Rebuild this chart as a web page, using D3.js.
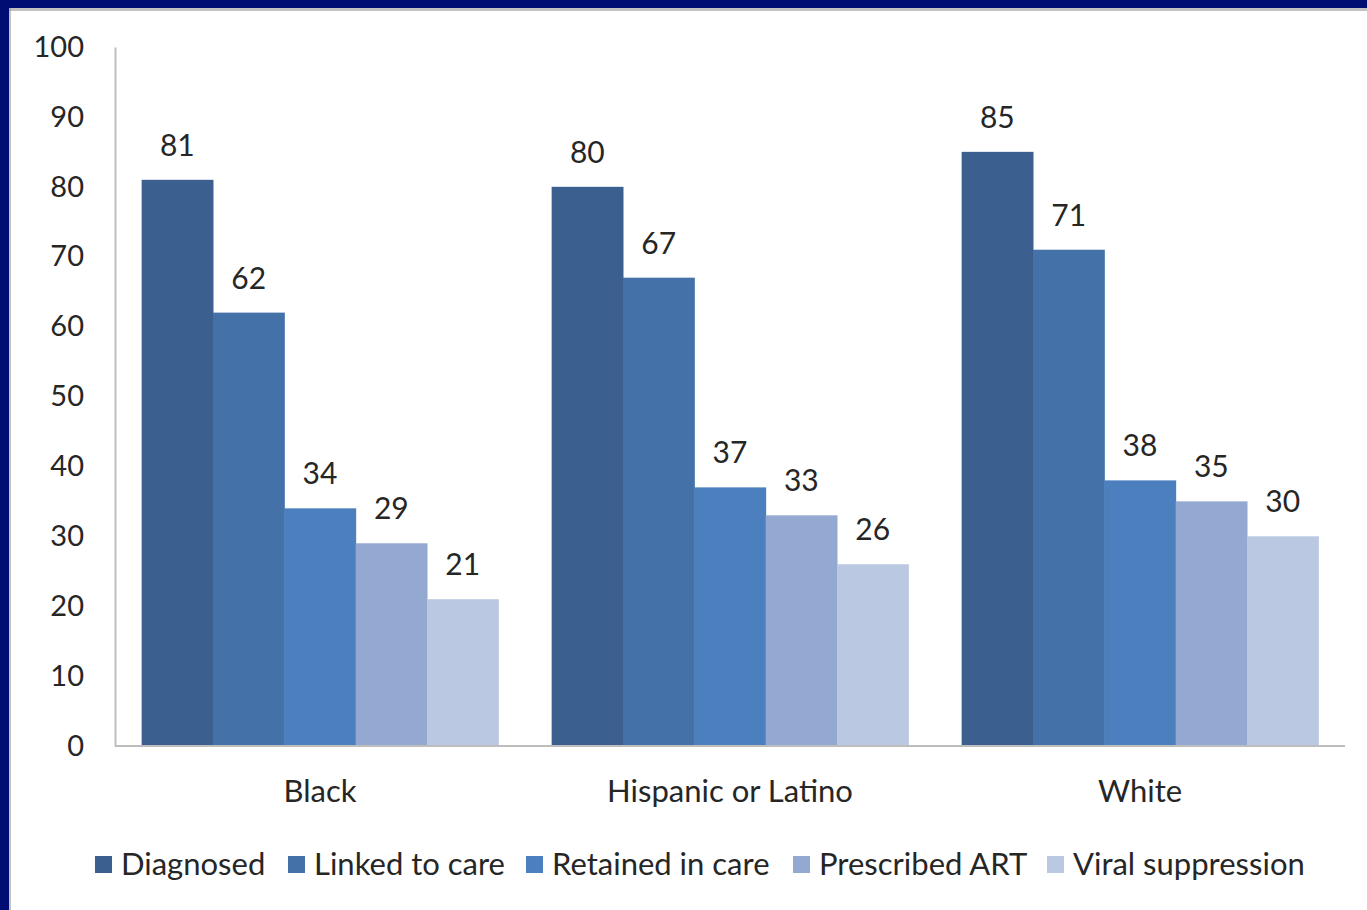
<!DOCTYPE html>
<html>
<head>
<meta charset="utf-8">
<script src="https://cdn.jsdelivr.net/npm/d3@7"></script>
<style>
  html, body { margin: 0; padding: 0; background: #fff; }
  svg { display: block; }
  text { font-family: Lato, "Open Sans", sans-serif; fill: #262626; }
</style>
</head>
<body>
<div id="chart"></div>
<script>
const WIDTH = 1367;
const HEIGHT = 910;

const groups = ["Black", "Hispanic or Latino", "White"];
const seriesNames = ["Diagnosed", "Linked to care", "Retained in care", "Prescribed ART", "Viral suppression"];
const diagnosed = [81, 80, 85];
const linkedToCare = [62, 67, 71];
const retainedInCare = [34, 37, 38];
const prescribedART = [29, 33, 35];
const viralSuppression = [21, 26, 30];
const yTicks = [0, 10, 20, 30, 40, 50, 60, 70, 80, 90, 100];

const seriesValues = [diagnosed, linkedToCare, retainedInCare, prescribedART, viralSuppression];
const colors = ["#3b5f8e", "#4472a8", "#4b7fbd", "#94a9d1", "#bac8e1"];

const margin = {left: 115, right: 22, top: 47, bottom: 164};

var svg = d3.select("#chart").append("svg")
    .attr("width", WIDTH)
    .attr("height", HEIGHT);

// frame of the slide
svg.append("rect").attr("x", 0).attr("y", 0).attr("width", WIDTH).attr("height", 8).attr("fill", "#000e73");
svg.append("rect").attr("x", 0).attr("y", 0).attr("width", 9).attr("height", HEIGHT).attr("fill", "#000e73");
svg.append("rect").attr("x", 9).attr("y", 8).attr("width", WIDTH).attr("height", 3).attr("fill", "#9a9a9a").attr("opacity", 0.6);
svg.append("rect").attr("x", 9).attr("y", 8).attr("width", 2).attr("height", HEIGHT).attr("fill", "#9a9a9a").attr("opacity", 0.6);

var x0 = d3.scaleBand()
    .domain(groups)
    .range([margin.left, WIDTH - margin.right])
    .paddingInner(0.13)
    .paddingOuter(0.065);

var x1 = d3.scaleBand()
    .domain(seriesNames)
    .range([0, x0.bandwidth()]);

var y = d3.scaleLinear()
    .domain([0, 100])
    .range([HEIGHT - margin.bottom, margin.top]);

var color = d3.scaleOrdinal().domain(seriesNames).range(colors);

var rows = [];
groups.forEach((g, gi) => {
    seriesNames.forEach((s, si) => {
        rows.push({group: g, series: s, value: seriesValues[si][gi]});
    });
});

var plot = svg.append("g");

plot.selectAll("rect.bar").data(rows).enter().append("rect")
    .attr("class", "bar")
    .attr("x", d => x0(d.group) + x1(d.series))
    .attr("y", d => y(d.value))
    .attr("width", x1.bandwidth() + 0.5)
    .attr("height", d => y(0) - y(d.value))
    .attr("fill", d => color(d.series));

plot.selectAll("text.lbl").data(rows).enter().append("text")
    .attr("class", "lbl")
    .attr("x", d => x0(d.group) + x1(d.series) + x1.bandwidth() / 2)
    .attr("y", d => y(d.value) - 24)
    .attr("text-anchor", "middle")
    .style("font-size", "30px")
    .text(d => d.value);

// y axis
var yAxis = svg.append("g")
    .attr("transform", `translate(${margin.left},0)`)
    .call(d3.axisLeft(y).tickValues(yTicks).tickSize(0).tickPadding(31));
yAxis.select(".domain").attr("stroke", "#bdbdbd").attr("stroke-width", 2);
yAxis.selectAll("text").style("font-size", "29px").attr("fill", "#262626");

// x axis
var xAxis = svg.append("g")
    .attr("transform", `translate(0,${y(0)})`)
    .call(d3.axisBottom(x0).tickSize(0).tickPadding(34));
xAxis.select(".domain").attr("d", `M${margin.left},0H${WIDTH - margin.right}`)
    .attr("stroke", "#bdbdbd").attr("stroke-width", 2);
xAxis.selectAll("text").style("font-size", "31px").attr("fill", "#262626");

// legend
var legendX = [95, 288, 526, 793, 1047];
var legend = svg.append("g").attr("transform", "translate(0,864)");
var items = legend.selectAll("g").data(seriesNames).enter().append("g")
    .attr("transform", (d, i) => `translate(${legendX[i]},0)`);
items.append("rect")
    .attr("x", 0).attr("y", -8).attr("width", 17).attr("height", 17)
    .attr("fill", d => color(d));
items.append("text")
    .attr("x", 26).attr("y", 0).attr("dy", "0.35em")
    .style("font-size", "31px")
    .text(d => d);
</script>
</body>
</html>
